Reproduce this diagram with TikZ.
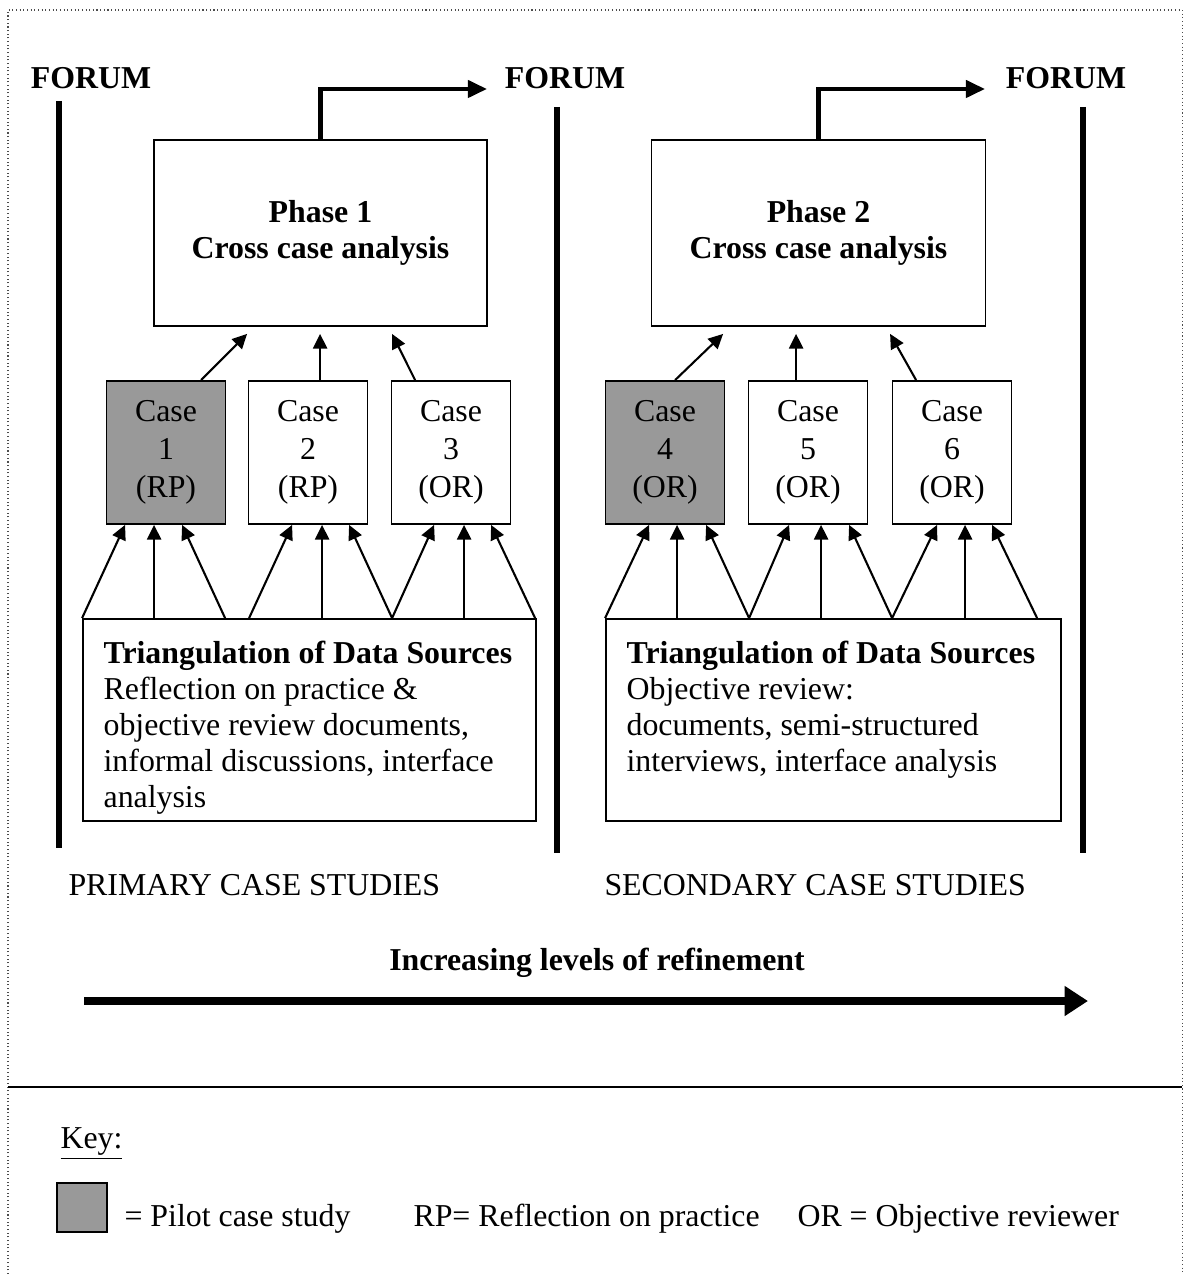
\documentclass[tikz,border=0pt]{standalone}
\usepackage{fontspec}
\setmainfont{Liberation Serif}
\usepackage{tikz}
\usetikzlibrary{arrows.meta, positioning, calc}
\newlength{\px}
\setlength{\px}{0.383pt}
\tikzset{
    pilotbox/.style={draw, line width=0.7pt, fill=#1},
    pilotbox/.default=black!40
}

\begin{document}
\begin{tikzpicture}[
    x=0.383pt, y=-0.383pt,
    every node/.style={font=\fontsize{12.2}{13.8}\selectfont},
    casebox/.style={draw, line width=0.7pt, minimum width=119\px, minimum height=143\px, align=center, inner sep=0pt, font=\fontsize{12.2}{14.5}\selectfont},
    phasebox/.style={draw, line width=0.7pt, minimum width=333\px, minimum height=186\px, align=center, font=\fontsize{12.2}{13.8}\selectfont\bfseries},
    databox/.style={draw, line width=0.7pt, minimum height=202\px, inner sep=0pt},
    datatext/.style={align=left, inner sep=0pt, anchor=north west},
    label/.style={font=\fontsize{12.2}{13.8}\selectfont\bfseries, inner sep=0pt, anchor=base},
    plain/.style={inner sep=0pt, anchor=base west},
    arrow/.style={-{Triangle[length=5.6pt, width=5.4pt]}, line width=0.8pt},
    fwdarrow/.style={-{Triangle[length=7.3pt, width=6.5pt]}, line width=1.6pt},
    bigarrow/.style={-{Triangle[length=9pt, width=11pt]}, line width=3pt},
    forumbar/.style={line width=2pt},
    frame/.style={densely dotted, line width=0.4pt, black!70}
]
\useasboundingbox (0,0) rectangle (1190,1274);

% outer frame and key separator
\draw[frame] (8,1274) |- (1182,10) -- (1182,1274);
\draw[line width=0.8pt] (8,1087) -- (1182,1087);

% Forum labels and bars
\node[label] (forum1) at (91,89) {FORUM};
\node[label] (forum2) at (565,89) {FORUM};
\node[label] (forum3) at (1066,89) {FORUM};
\draw[forumbar] (59,101) -- (59,848);
\draw[forumbar] (557,107) -- (557,853);
\draw[forumbar] (1083,107) -- (1083,853);

% Phase boxes
\node[phasebox] (phase1) at (320.5,233) {Phase 1\\Cross case analysis};
\node[phasebox, minimum width=334\px] (phase2) at (818.5,233) {Phase 2\\Cross case analysis};

% Phase results go on to the next forum
\coordinate (fwd1) at (487,89);
\coordinate (fwd2) at (985,89);
\draw[fwdarrow] (phase1.north) |- (fwd1);
\draw[fwdarrow] (phase2.north) |- (fwd2);

% Case boxes
\foreach \n/\x/\role/\col in {1/166/RP/black!40, 2/308/RP/white, 3/451/OR/white, 4/665/OR/black!40, 5/808/OR/white, 6/952/OR/white} {
    \node[casebox, pilotbox=\col] (case\n) at (\x,452.5) {Case\\\n\\(\role)};
}

% Cases feed the cross case analysis
\foreach \c/\p/\s/\t in {case1/phase1/95.5/94, case2/phase1/72.5/167, case3/phase1/24.5/239,
                        case4/phase2/70.5/72.5, case5/phase2/48.5/145.5, case6/phase2/24.5/239.5} {
    \draw[arrow] ([xshift=\s\px]\c.north west) -- ([xshift=\t\px, yshift=-7\px]\p.south west);
}

% Triangulation boxes
\node[databox, minimum width=453\px] (tri1) at (309.5,720) {};
\node[datatext] (tri1txt) at ([xshift=21\px, yshift=-22\px]tri1.north west)
    {\textbf{Triangulation of Data Sources}\\Reflection on practice \&\\objective review documents,\\informal discussions, interface\\analysis};
\node[databox, minimum width=455\px] (tri2) at (833.5,720) {};
\node[datatext] (tri2txt) at ([xshift=21\px, yshift=-22\px]tri2.north west)
    {\textbf{Triangulation of Data Sources}\\Objective review:\\documents, semi-structured\\interviews, interface analysis};

% Data sources into each case
\foreach \c/\s/\t in {case1/0/19.5, case1/72/48.5, case1/143/76.5,
                      case2/167/44.5, case2/240/74.5, case2/310/101.5,
                      case3/310/43.5, case3/382/73.5, case3/453/100.5} {
    \draw[arrow] ([xshift=\s\px]tri1.north west) -- ([xshift=\t\px]\c.south west);
}
\foreach \c/\s/\t in {case4/0/44.5, case4/72/72.5, case4/144/101.5,
                      case5/144/41.5, case5/216/73.5, case5/287/101.5,
                      case6/287/45.5, case6/360/73.5, case6/432/100.5} {
    \draw[arrow] ([xshift=\s\px]tri2.north west) -- ([xshift=\t\px]\c.south west);
}

% Stage labels
\node[plain] (primary) at (68,895) {PRIMARY CASE STUDIES};
\node[plain] (secondary) at (604,895) {SECONDARY CASE STUDIES};

% Refinement arrow
\node[label] (refine) at (597,970) {Increasing levels of refinement};
\coordinate (refstart) at (84,1001);
\coordinate (refend) at (1088,1001);
\draw[bigarrow] (refstart) -- (refend);

% Key
\node[plain] (keylbl) at (60,1148) {\underline{Key:}};
\node[pilotbox, minimum width=50\px, minimum height=49\px, inner sep=0pt] (keyswatch) at (82,1207.5) {};
\node[plain] (keypilot) at (124,1226) {= Pilot case study};
\node[plain] (keyrp) at (413,1226) {RP= Reflection on practice};
\node[plain] (keyor) at (797,1226) {OR = Objective reviewer};

\end{tikzpicture}
\end{document}
